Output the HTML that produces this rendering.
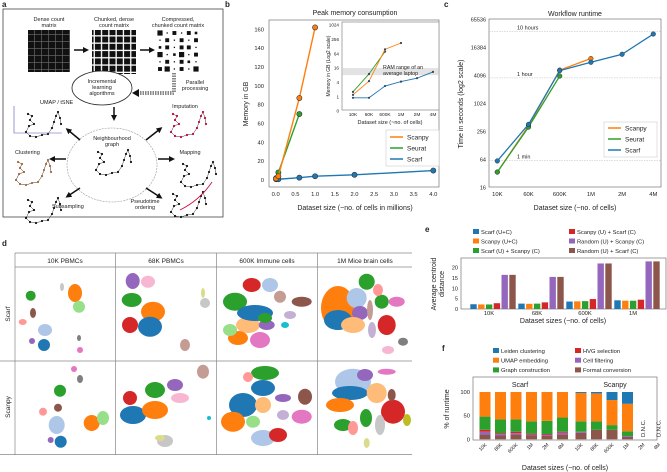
<!DOCTYPE html>
<html><head><meta charset="utf-8">
<style>
html,body{margin:0;padding:0;background:#fff;}
svg{display:block;font-family:"Liberation Sans",sans-serif;}
text{fill:#222;}
</style></head>
<body>
<svg id="root" width="667" height="472" viewBox="0 0 667 472" xmlns="http://www.w3.org/2000/svg">
<defs>
<pattern id="dense" width="7" height="7" patternUnits="userSpaceOnUse"><rect width="7" height="7" fill="#111"/><rect x="6.3" width="0.7" height="7" fill="#666"/><rect y="6.3" width="7" height="0.7" fill="#666"/></pattern>
<pattern id="chunk" width="7.3" height="7.3" patternUnits="userSpaceOnUse"><rect width="6" height="6" fill="#111"/></pattern>
<marker id="ah" viewBox="0 0 10 10" refX="5" refY="5" markerWidth="4" markerHeight="4" orient="auto"><path d="M0,0 L10,5 L0,10z" fill="#111"/></marker>
</defs>

<!-- PANEL A -->
<g>
<text x="2" y="7" font-size="8" font-weight="bold">a</text>
<rect x="3" y="9" width="220" height="208" fill="none" stroke="#444" stroke-width="0.8"/>
<text x="49" y="21" font-size="5.5" text-anchor="middle"><tspan x="49">Dense count</tspan><tspan x="49" dy="6">matrix</tspan></text>
<rect x="28" y="30" width="42" height="42" fill="url(#dense)"/>
<text x="114" y="21" font-size="5.5" text-anchor="middle"><tspan x="114">Chunked, dense</tspan><tspan x="114" dy="6">count matrix</tspan></text>
<rect x="92" y="30" width="44" height="44" fill="url(#chunk)"/>
<text x="178" y="21" font-size="5.5" text-anchor="middle"><tspan x="178">Compressed,</tspan><tspan x="178" dy="6">chunked count matrix</tspan></text>
<g id="compressed"></g>
<line x1="74" y1="50" x2="86" y2="50" stroke="#111" stroke-width="1.5" marker-end="url(#ah)"/>
<line x1="140" y1="50" x2="152" y2="50" stroke="#111" stroke-width="1.5" marker-end="url(#ah)"/>
<path d="M174,73 L174,93 L138,93" fill="none" stroke="#111" stroke-width="3" stroke-dasharray="1.5 1"/>
<path d="M174,73 L174,93 L138,93" fill="none" stroke="#fff" stroke-width="1"/>
<polygon points="132,93 139,89 139,97" fill="#111"/>
<text x="195" y="84" font-size="5.5" text-anchor="middle"><tspan x="195">Parallel</tspan><tspan x="195" dy="6">processing</tspan></text>
<ellipse cx="102" cy="88" rx="30" ry="17" fill="#fff" stroke="#222" stroke-width="0.8"/>
<text x="102" y="83" font-size="5.5" text-anchor="middle"><tspan x="102">Incremental</tspan><tspan x="102" dy="6">learning</tspan><tspan x="102" dy="6">algorithms</tspan></text>
<line x1="114" y1="107" x2="114" y2="118" stroke="#111" stroke-width="1.5" marker-end="url(#ah)"/>
<ellipse cx="112" cy="165" rx="45" ry="37" fill="none" stroke="#999" stroke-width="0.6" stroke-dasharray="2 1"/>
<text x="112" y="140" font-size="5.5" text-anchor="middle"><tspan x="112">Neighbourhood</tspan><tspan x="112" dy="6">graph</tspan></text>
<g id="graphs"></g>
<text x="40" y="104" font-size="5.5">UMAP / tSNE</text>
<text x="185" y="108" font-size="5.5" text-anchor="middle">Imputation</text>
<text x="15" y="154" font-size="5.5">Clustering</text>
<text x="190" y="154" font-size="5.5" text-anchor="middle">Mapping</text>
<text x="52" y="208" font-size="5.5">Subsampling</text>
<text x="145" y="203" font-size="5.5" text-anchor="middle"><tspan x="145">Pseudotime</tspan><tspan x="145" dy="6">ordering</tspan></text>
<line x1="80" y1="140" x2="68" y2="130" stroke="#111" stroke-width="1.5" marker-end="url(#ah)"/>
<line x1="146" y1="140" x2="160" y2="129" stroke="#111" stroke-width="1.5" marker-end="url(#ah)"/>
<line x1="66" y1="159" x2="52" y2="159" stroke="#111" stroke-width="1.5" marker-end="url(#ah)"/>
<line x1="158" y1="159" x2="172" y2="159" stroke="#111" stroke-width="1.5" marker-end="url(#ah)"/>
<line x1="80" y1="188" x2="68" y2="196" stroke="#111" stroke-width="1.5" marker-end="url(#ah)"/>
<line x1="146" y1="188" x2="160" y2="197" stroke="#111" stroke-width="1.5" marker-end="url(#ah)"/>
<path d="M14,106 L14,133 L62,133" fill="none" stroke="#55a" stroke-width="0.6"/>
<path d="M180,210 Q200,200 212,182" fill="none" stroke="#c03" stroke-width="0.8"/>
</g>

<!-- PANEL B -->
<g id="pb">
<text x="225" y="7" font-size="8" font-weight="bold">b</text>
<text x="355" y="15" font-size="7" text-anchor="middle">Peak memory consumption</text>
<rect x="269" y="20" width="170" height="167" fill="none" stroke="#777" stroke-width="0.7"/>
<text x="355" y="210" font-size="7" text-anchor="middle">Dataset size (~no. of cells in millions)</text>
<text x="248" y="104" font-size="7" text-anchor="middle" transform="rotate(-90 248 104)">Memory in GB</text>
<rect x="342" y="22" width="97" height="88" fill="#fff" stroke="#999" stroke-width="0.6"/>
<text x="390" y="124" font-size="5.5" text-anchor="middle">Dataset size (~no. of cells)</text>
<text x="330" y="66" font-size="5" text-anchor="middle" transform="rotate(-90 330 66)">Memory in GB (Log2 scale)</text>
<rect x="386" y="130" width="53" height="36" fill="#fff" stroke="#ccc" stroke-width="0.6"/>
</g>

<!-- PANEL C -->
<g id="pc">
<text x="444" y="7" font-size="8" font-weight="bold">c</text>
<text x="575" y="16" font-size="7" text-anchor="middle">Workflow runtime</text>
<rect x="489" y="19" width="172" height="168" fill="none" stroke="#777" stroke-width="0.7"/>
<text x="575" y="210" font-size="7" text-anchor="middle">Dataset size (~no. of cells)</text>
<text x="463" y="104" font-size="7" text-anchor="middle" transform="rotate(-90 463 104)">Time in seconds (log2 scale)</text>
</g>

<!-- PANEL D -->
<g id="pd">
<text x="2" y="246" font-size="8" font-weight="bold">d</text>
<text x="65" y="263" font-size="6.5" text-anchor="middle">10K PBMCs</text>
<text x="166" y="263" font-size="6.5" text-anchor="middle">68K PBMCs</text>
<text x="267" y="263" font-size="6.5" text-anchor="middle">600K Immune cells</text>
<text x="365" y="263" font-size="6.5" text-anchor="middle">1M Mice brain cells</text>
<text x="10" y="314" font-size="6.5" text-anchor="middle" transform="rotate(-90 10 314)">Scarf</text>
<text x="10" y="407" font-size="6.5" text-anchor="middle" transform="rotate(-90 10 407)">Scanpy</text>
<clipPath id="dclip"><rect x="15" y="267" width="397" height="188"/></clipPath>
<g id="blobs" clip-path="url(#dclip)"></g>
<path d="M15,253 H412 M15,267 H412 M0,361 H412 M0,454.5 H412 M15,253 V455 M115.5,253 V455 M216.5,253 V455 M317.5,253 V455" fill="none" stroke="#888" stroke-width="0.7"/>
</g>

<!-- PANEL E -->
<g id="pe">
<text x="425" y="232" font-size="8" font-weight="bold">e</text>
<text x="563" y="323" font-size="7" text-anchor="middle">Dataset sizes (~no. of cells)</text>
<text x="436" y="284" font-size="7" text-anchor="middle" transform="rotate(-90 436 284)"><tspan x="436" y="284">Average centroid</tspan><tspan x="436" y="292">distance</tspan></text>
<rect x="461" y="258" width="205" height="51" fill="none" stroke="#777" stroke-width="0.7"/>
</g>

<!-- PANEL F -->
<g id="pf">
<text x="442" y="351" font-size="8" font-weight="bold">f</text>
<rect x="473" y="377" width="184" height="63" fill="none" stroke="#777" stroke-width="0.7"/>
<text x="520" y="387" font-size="7" text-anchor="middle">Scarf</text>
<text x="615" y="387" font-size="7" text-anchor="middle">Scanpy</text>
<text x="565" y="470" font-size="7" text-anchor="middle">Dataset sizes (~no. of cells)</text>
<text x="449" y="409" font-size="7" text-anchor="middle" transform="rotate(-90 449 409)">% of runtime</text>
</g>
</svg>

<script>
// ---------- Panel B data ----------
const memXMain = [0.01, 0.068, 0.6, 1.0, 2.0, 4.0];
const memScanpy = [1.5, 4, 87, 162];
const memSeurat = [2, 8, 70];
const memScarf = [0.8, 0.8, 2.5, 4, 5.5, 10];
const memXTicks = [0, 0.5, 1, 1.5, 2, 2.5, 3, 3.5, 4];
const memXTickLabels = ["0.0","0.5","1.0","1.5","2.0","2.5","3.0","3.5","4.0"];
const memYTicks = [0, 20, 40, 60, 80, 100, 120, 140, 160];
const insetCats = ["10K","60K","600K","1M","2M","4M"];
const insetScanpy = [1.2, 4.5, 97, 180];
const insetSeurat = [1.6, 9, 78];
const insetScarf = [0.9, 0.9, 2.8, 4.3, 6, 11];
const insetYTicks = [0.25, 1, 4, 16, 64, 256, 1024];
const insetYTickLabels = ["0","1","4","16","64","256","1024"];
const ramBand = [8, 16];
// ---------- Panel C data ----------
const rtCats = ["10K","60K","600K","1M","2M","4M"];
const rtScanpy = [34, 333, 5300, 9400];
const rtSeurat = [34, 315, 3950];
const rtScarf = [59, 360, 5150, 7800, 11600, 31600];
const rtYTicks = [16, 64, 256, 1024, 4096, 16384, 65536];
const rtRefLines = [60, 3600, 36000];
const rtRefLabels = ["1 min", "1 hour", "10 hours"];
// ---------- Panel E data ----------
const ecCats = ["10K","68K","600K","1M"];
const ecSeries = ["Scarf (U+C)","Scanpy (U+C)","Scarf (U) + Scanpy (C)","Scanpy (U) + Scarf (C)","Random (U) + Scanpy (C)","Random (U) + Scarf (C)"];
const ecScarfUC = [2.3, 2.6, 3.6, 4.2];
const ecScanpyUC = [2.2, 2.5, 3.7, 4.0];
const ecScarfScanpy = [2.2, 2.6, 3.8, 4.0];
const ecScanpyScarf = [2.8, 3.2, 4.8, 4.5];
const ecRandScanpy = [16.5, 15.5, 22, 23];
const ecRandScarf = [16.5, 15.5, 22, 23];
const ecYTicks = [0, 5, 10, 15, 20];
// ---------- Panel F data ----------
const fsCats = ["10K","68K","600K","1M","2M","4M"];
const fsSteps = ["Format conversion","Cell filtering","HVG selection","Graph construction","UMAP embedding","Leiden clustering"];
const fsScarfFormat = [10, 8, 10, 8, 7, 10];
const fsScarfFilter = [6, 3, 3, 2, 2, 4];
const fsScarfHvg = [4, 2, 3, 2, 2, 2];
const fsScarfGraph = [28, 29, 26, 26, 28, 30];
const fsScarfUmap = [52, 58, 58, 62, 61, 54];
const fsScarfLeiden = [0, 0, 0, 0, 0, 0];
const fsScanpyFormat = [14, 20, 20, 5];
const fsScanpyFilter = [2, 0, 0, 2];
const fsScanpyHvg = [0, 0, 0, 0];
const fsScanpyGraph = [22, 18, 10, 10];
const fsScanpyUmap = [60, 59, 53, 58];
const fsScanpyLeiden = [2, 3, 17, 25];
const fsYTicks = [0, 50, 100];

const NS = "http://www.w3.org/2000/svg";
const C = {blue:"#1f77b4",orange:"#ff7f0e",green:"#2ca02c",red:"#d62728",purple:"#9467bd",brown:"#8c564b",pink:"#e377c2",grey:"#7f7f7f",olive:"#bcbd22",cyan:"#17becf",lblue:"#aec7e8",lorange:"#ffbb78",lgreen:"#98df8a",lred:"#ff9896",lpurple:"#c5b0d5",lbrown:"#c49c94",lpink:"#f7b6d2",lgrey:"#c7c7c7",lolive:"#dbdb8d"};
function mk(tag, attrs, parent){const e=document.createElementNS(NS,tag);for(const k in attrs)e.setAttribute(k,attrs[k]);parent.appendChild(e);return e;}
function txt(s, attrs, parent){const e=mk("text",attrs,parent);e.textContent=s;return e;}
const log2 = Math.log2;

// ---------- Panel A decorations ----------
(function(){
  const g=document.getElementById("compressed");
  const sz=[[4,1,3,1,3,2],[1,3,1,3,1,3],[2,3,1,3,3,1],[4,1,2,4,1,3],[1,3,1,3,2,1],[3,4,1,3,1,4]];
  for(let r=0;r<6;r++)for(let c=0;c<6;c++){const s=sz[r][c]*1.3;const cx=160+c*7.2,cy=33+r*7.2;
    const el=mk("rect",{x:cx-s/2,y:cy-s/2,width:s,height:s,fill:"#111"},g);
    
    }
  const gg=document.getElementById("graphs");
  const places=[[20,110,"#111"],[165,110,"#c03"],[10,158,"#a63"],[175,160,"#111"],[90,148,"#111"],[20,196,"#111"],[165,190,"#111"]];
  const shape=[[8,4],[12,6],[10,10],[14,14],[9,16],[6,22],[10,26],[16,27],[22,25],[28,24],[32,18],[34,12],[36,6],[38,2],[40,8],[41,14]];
  places.forEach(p=>{
    const d="M"+shape.map(s=>(p[0]+s[0])+","+(p[1]+s[1])).join(" L");
    const pl=mk("path",{d:d,fill:"none",stroke:"#333","stroke-width":0.5},gg);
    
    
    shape.forEach(s=>{const c=mk("circle",{cx:p[0]+s[0],cy:p[1]+s[1],r:1.1,fill:p[2]},gg);
      
      });
  });
})();

// ---------- Panel B ----------
(function(){
  const g=document.getElementById("pb");
  const xs=v=>275.7+v*(433.3-275.7)/4, ys=v=>180-v*(180-29.3)/160;
  memXTicks.forEach((t,i)=>{
    const l=txt(memXTickLabels[i],{x:xs(t),y:196,"font-size":5.8,"text-anchor":"middle"},g);
    
    });
  memYTicks.forEach(t=>{
    const l=txt(String(t),{x:264,y:ys(t)+2,"font-size":5.8,"text-anchor":"end"},g);
    
    });
  function series(vals,col,name){
    const pts=vals.map((v,i)=>xs(memXMain[i])+","+ys(v)).join(" ");
    const pl=mk("polyline",{points:pts,fill:"none",stroke:col,"stroke-width":1.4},g);
    
    
    vals.forEach((v,i)=>{const c=mk("circle",{cx:xs(memXMain[i]),cy:ys(v),r:2.6,fill:col,stroke:"#333","stroke-width":0.6},g);
      
      });
  }
  series(memScarf,C.blue,"scarf"); series(memSeurat,C.green,"seurat"); series(memScanpy,C.orange,"scanpy");
  const ix=i=>353+i*16, iy=v=>96.7-log2(v)*7.17;
  const band=mk("rect",{x:342,y:iy(ramBand[1]),width:97,height:iy(ramBand[0])-iy(ramBand[1]),fill:"#e3e3e3"},g);
  
  
  const fr=mk("rect",{x:342,y:22,width:97,height:88,fill:"none",stroke:"#999","stroke-width":0.6},g);
  
  
  const rt=txt("RAM range of an",{x:383,y:69,"font-size":5.3},g);
  
  
  const rt2=txt("average laptop",{x:383,y:75,"font-size":5.3},g);
  
  
  insetCats.forEach((c,i)=>{const l=txt(c,{x:ix(i),y:116,"font-size":4.8,"text-anchor":"middle"},g);
    
    });
  insetYTicks.forEach((t,i)=>{const l=txt(insetYTickLabels[i],{x:339,y:iy(t)+1.6,"font-size":4.6,"text-anchor":"end"},g);
    
    });
  function iseries(vals,col,name){
    const pl=mk("polyline",{points:vals.map((v,i)=>ix(i)+","+iy(v)).join(" "),fill:"none",stroke:col,"stroke-width":0.9},g);
    
    
    vals.forEach((v,i)=>{const c=mk("circle",{cx:ix(i),cy:iy(v),r:1.1,fill:"#345"},g);
      
      });
  }
  iseries(insetScarf,C.blue,"scarf"); iseries(insetSeurat,C.green,"seurat"); iseries(insetScanpy,C.orange,"scanpy");
  [["Scanpy",C.orange],["Seurat",C.green],["Scarf",C.blue]].forEach((e,i)=>{
    const y=137+i*11;
    const l=mk("line",{x1:390,y1:y,x2:403,y2:y,stroke:e[1],"stroke-width":1.5},g);
    
    
    const t=txt(e[0],{x:407,y:y+2.3,"font-size":6.5},g);
    
    });
})();

// ---------- Panel C ----------
(function(){
  const g=document.getElementById("pc");
  const cx=i=>497.3+i*31.2, cy=v=>187.3-(log2(v)-4)*14;
  rtRefLines.forEach((v,i)=>{
    const l=mk("line",{x1:489,y1:cy(v),x2:661,y2:cy(v),stroke:"#bbb","stroke-width":0.5,"stroke-dasharray":"1.5 1"},g);
    
    
    const t=txt(rtRefLabels[i],{x:517,y:cy(v)-2,"font-size":5.5},g);
    
    });
  rtCats.forEach((c,i)=>{const l=txt(c,{x:cx(i),y:196,"font-size":5.8,"text-anchor":"middle"},g);
    
    });
  rtYTicks.forEach(t=>{const l=txt(String(t),{x:486,y:cy(t)+2,"font-size":5.5,"text-anchor":"end"},g);
    
    });
  function series(vals,col,name){
    const pl=mk("polyline",{points:vals.map((v,i)=>cx(i)+","+cy(v)).join(" "),fill:"none",stroke:col,"stroke-width":1.3},g);
    
    
    vals.forEach((v,i)=>{const c=mk("circle",{cx:cx(i),cy:cy(v),r:2.3,fill:col,stroke:"#333","stroke-width":0.5},g);
      
      });
  }
  series(rtScanpy,C.orange,"scanpy"); series(rtSeurat,C.green,"seurat"); series(rtScarf,C.blue,"scarf");
  const lb=mk("rect",{x:604,y:122,width:53,height:35,fill:"#fff",stroke:"#ccc","stroke-width":0.6},g);
  
  
  [["Scanpy",C.orange],["Seurat",C.green],["Scarf",C.blue]].forEach((e,i)=>{
    const y=128+i*11;
    const l=mk("line",{x1:608,y1:y,x2:621,y2:y,stroke:e[1],"stroke-width":1.5},g);
    
    
    const t=txt(e[0],{x:625,y:y+2.3,"font-size":6.5},g);
    
    });
})();

// ---------- Panel D blobs ----------
(function(){
  const g=document.getElementById("blobs");
  const B=[
  [30.7,295.7,5,5,"green"],[75,293,7,9,"orange"],[79,306.7,6,6,"lgreen"],[45,330,7,6,"lblue"],[44,345,6,6,"blue"],[32,341,3,3,"purple"],[22.7,322,4,3,"lred"],[33,313,3,5,"brown"],[80,350,3,3,"pink"],[79,338,2,3,"grey"],[62,287,2,4,"lgrey"],
  [132.7,281,7,8,"purple"],[148,281.7,7,6,"lpink"],[131.7,300,10,7,"green"],[153,311.7,12,10,"orange"],[130,325,8,8,"red"],[150,326.7,12,10,"blue"],[205,303,5,5,"lgrey"],[203,293,2,5,"lolive"],[185,345,5,6,"lbrown"],
  [251.7,285,9,7,"red"],[270,285,8,7,"lblue"],[235,301.7,12,9,"green"],[248,325,12,8,"lorange"],[255,313,18,8,"blue"],[301.7,301.7,10,5,"brown"],[238,338,10,7,"orange"],[230,330,7,6,"lgreen"],[260,340,10,8,"pink"],[266.7,325,8,5,"purple"],[265,318,7,5,"green"],[285,325,4,3,"cyan"],[280,296.7,6,6,"lbrown"],[290,315,6,4,"lpurple"],
  [338,308,17,22,"orange"],[338,320,14,10,"blue"],[356.7,298,10,10,"lblue"],[366.7,281.7,8,8,"green"],[381.7,301.7,7,7,"green"],[360,313,8,7,"purple"],[353,325,12,8,"lorange"],[386.7,325,9,10,"red"],[396.7,301.7,8,5,"pink"],[378,290,5,6,"lred"],[403,341.7,5,4,"grey"],[388,350,6,4,"lpink"],[372,330,4,8,"lpurple"],[370,310,3,10,"lbrown"],
  [60,390.7,6,6,"green"],[74,369,3,3,"pink"],[80,379,3,4,"grey"],[43,411.7,4,4,"lred"],[58,407.7,4,4,"brown"],[56.7,425,8,9,"lblue"],[50.7,440,3,3,"purple"],[60.7,441.7,6,6,"blue"],[91.7,423,8,8,"orange"],[103,418,6,7,"lgreen"],
  [130,398,7,7,"red"],[133,415,13,9,"blue"],[155,390,10,8,"green"],[155,410,13,9,"orange"],[175,385,8,6,"purple"],[180,398,9,5,"lpink"],[203,371.7,6,7,"lbrown"],[165,441,8,6,"lgrey"],[160,438,5,3,"lolive"],[209,418,2,2,"cyan"],
  [265,373,14,7,"green"],[248,377,5,5,"lred"],[263,388,12,8,"blue"],[243,405,14,12,"blue"],[263,405,8,8,"lorange"],[233,421.7,12,10,"orange"],[253,421.7,7,6,"lgreen"],[283,398,8,4,"purple"],[305,396.7,7,8,"brown"],[301.7,416.7,10,7,"pink"],[263,438,12,8,"lblue"],[278,435,9,7,"red"],[283,415,6,5,"lpurple"],
  [353,381.7,18,13,"lblue"],[365,375,8,6,"purple"],[350,393,18,7,"blue"],[340,405,14,7,"orange"],[376.7,393,10,10,"lorange"],[393,411.7,12,12,"red"],[343,425,9,6,"green"],[366,418,6,9,"green"],[353,428,5,7,"lred"],[386.7,371.7,9,3,"pink"],[380,425,5,10,"lgrey"],[366.7,443,3,5,"lolive"],[391.7,395,4,6,"brown"],[407,420,4,6,"olive"]
  ];
  B.forEach(b=>{const e=mk("ellipse",{cx:b[0],cy:b[1],rx:b[2],ry:b[3],fill:C[b[4]]},g);
    
    });
})();

// ---------- Panel E ----------
(function(){
  const g=document.getElementById("pe");
  const gx=i=>493+i*48, ey=v=>309-v*2.07;
  const cols=[C.blue,C.orange,C.green,C.red,C.purple,C.brown];
  const series=[ecScarfUC,ecScanpyUC,ecScarfScanpy,ecScanpyScarf,ecRandScanpy,ecRandScarf];
  ecYTicks.forEach(t=>{const l=txt(String(t),{x:458,y:ey(t)+2,"font-size":5.5,"text-anchor":"end"},g);
    
    });
  ecCats.forEach((c,i)=>{const l=txt(c,{x:gx(i)-4,y:315,"font-size":5.8,"text-anchor":"middle"},g);
    
    });
  series.forEach((s,k)=>s.forEach((v,i)=>{
    const x=gx(i)+(k-2.5)*7.8-3.2;
    const r=mk("rect",{x:x,y:ey(v),width:6.4,height:309-ey(v),fill:cols[k]},g);
    
    }));
  ecSeries.forEach((s,k)=>{
    const x=k<3?473:569, y=233+(k%3)*9.5;
    const r=mk("rect",{x:x,y:y-4,width:6,height:5,fill:cols[k]},g);
    
    
    const t=txt(s,{x:x+8,y:y+0.8,"font-size":5.8},g);
    
    });
})();

// ---------- Panel F ----------
(function(){
  const g=document.getElementById("pf");
  const fy=v=>439.3-v*0.473;
  const groupStart=[485,581], stride=15.5;
  const cols=[C.brown,C.purple,C.red,C.green,C.orange,C.blue];
  const scarf=[fsScarfFormat,fsScarfFilter,fsScarfHvg,fsScarfGraph,fsScarfUmap,fsScarfLeiden];
  const scanpy=[fsScanpyFormat,fsScanpyFilter,fsScanpyHvg,fsScanpyGraph,fsScanpyUmap,fsScanpyLeiden];
  fsYTicks.forEach(t=>{const l=txt(String(t),{x:470,y:fy(t)+2,"font-size":5.8,"text-anchor":"end"},g);
    
    });
  [scarf,scanpy].forEach((grp,gi)=>{
    fsCats.forEach((c,i)=>{
      const x=groupStart[gi]+i*stride;
      let acc=0;
      if(i<grp[0].length){
        grp.forEach((s,k)=>{const v=s[i]; if(v<=0)return;
          const r=mk("rect",{x:x-5.5,y:fy(acc+v),width:11,height:fy(acc)-fy(acc+v),fill:cols[k]},g);
          
          
          acc+=v;});
      } else {
        const d=txt("D.N.C.",{x:x+2,y:437,"font-size":5.8,transform:"rotate(-90 "+(x+2)+" 437)"},g);
        
        
      }
      const l=txt(c,{x:x+2,y:445,"font-size":5,"text-anchor":"end",transform:"rotate(-45 "+(x+2)+" 445)"},g);
      
      
    });
  });
  const legOrder=[5,4,3,2,1,0];
  legOrder.forEach((k,j)=>{
    const x=j<3?493:575, y=352+(j%3)*9.7;
    const r=mk("rect",{x:x,y:y-4,width:6,height:5,fill:cols[k]},g);
    
    
    const t=txt(fsSteps[k],{x:x+8,y:y+0.8,"font-size":5.8},g);
    
    });
})();
</script>
</body></html>
